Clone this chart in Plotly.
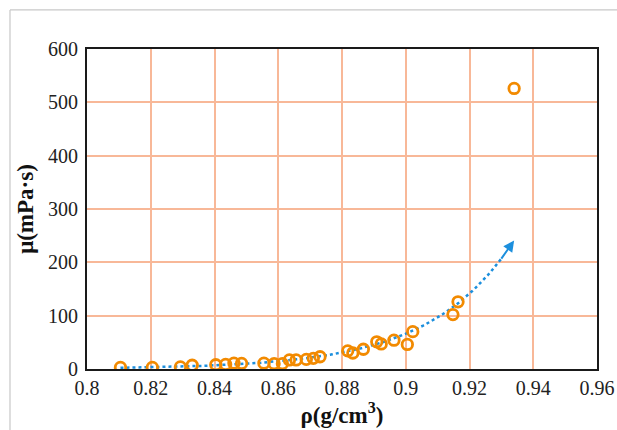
import numpy as np
import plotly.graph_objects as go

density = [0.8105, 0.8205, 0.8293, 0.8330, 0.8404, 0.8435, 0.8461, 0.8485, 0.8555,
           0.8587, 0.8613, 0.8635, 0.8656, 0.8688, 0.8710, 0.8731, 0.8818, 0.8834,
           0.8867, 0.8909, 0.8923, 0.8963, 0.9005, 0.9022, 0.9148, 0.9164, 0.9340]
viscosity = [3, 3, 4, 7, 8, 8.5, 11, 10.5, 11,
             10, 10, 17, 17, 18, 20, 23, 34, 30,
             37, 51, 47, 54, 46, 70, 102, 126, 526]

x_ticks = [0.8, 0.82, 0.84, 0.86, 0.88, 0.9, 0.92, 0.94, 0.96]
x_tick_labels = ["0.8", "0.82", "0.84", "0.86", "0.88", "0.9", "0.92", "0.94", "0.96"]
y_ticks = [0, 100, 200, 300, 400, 500, 600]

# exponential trendline (least squares on ln y), as a spreadsheet would do
xd = np.array(density)
yd = np.array(viscosity)
b, lna = np.polyfit(xd, np.log(yd), 1)
xt = np.linspace(xd.min(), xd.max(), 200)
yt = np.exp(lna + b * xt)

orange = "#F28A00"
blue = "#1C8FDD"
grid = "#F8B898"
serif = "Liberation Serif, Times New Roman, serif"
tickfont = dict(family=serif, size=20, color="#222222")

fig = go.Figure()
fig.add_trace(go.Scatter(x=xt[:-6], y=yt[:-6], mode="lines",
                         line=dict(color=blue, width=2.5, dash="dot"),
                         hoverinfo="skip", showlegend=False))
fig.add_trace(go.Scatter(x=density, y=viscosity, mode="markers",
                         marker=dict(symbol="circle-open", size=10.5, color=orange,
                                     line=dict(width=2.8, color=orange)),
                         showlegend=False))
fig.add_annotation(x=xt[-1], y=yt[-1], ax=xt[-8], ay=yt[-8],
                   xref="x", yref="y", axref="x", ayref="y",
                   showarrow=True, arrowhead=2, arrowsize=1.1, arrowwidth=2,
                   arrowcolor=blue, text="")

# light gray frame around the whole figure
fig.add_shape(type="line", xref="paper", yref="paper", x0=-0.151, x1=-0.151,
              y0=-0.3, y1=1.122, line=dict(color="#C8C8C8", width=1.2))
fig.add_shape(type="line", xref="paper", yref="paper", x0=-0.151, x1=1.1,
              y0=1.122, y1=1.122, line=dict(color="#C8C8C8", width=1.2))

fig.update_layout(
    width=617, height=430,
    margin=dict(l=87, r=20, t=49, b=61, autoexpand=False),
    paper_bgcolor="white", plot_bgcolor="white",
    font=dict(family=serif, size=20, color="#222222"),
    xaxis=dict(range=[0.8, 0.96], tickvals=x_ticks, ticktext=x_tick_labels,
               tickfont=tickfont,
               showgrid=True, gridcolor=grid, gridwidth=1.5,
               showline=True, linecolor="#1a1a1a", linewidth=2.2, mirror=True,
               ticks="", zeroline=False, automargin=False,
               title=dict(text="<b>ρ(g/cm<sup>3</sup>)</b>", standoff=4,
                          font=dict(family=serif, size=23, color="#111111"))),
    yaxis=dict(range=[0, 600], tickvals=y_ticks, tickfont=tickfont,
               showgrid=True, gridcolor=grid, gridwidth=1.5,
               showline=True, linecolor="#1a1a1a", linewidth=2.2, mirror=True,
               ticks="", zeroline=False, automargin=False, ticklabelstandoff=3,
               title=dict(text="<b>μ(mPa·s)</b>", standoff=8,
                          font=dict(family=serif, size=23, color="#111111"))),
)

fig.write_html("out.html",
               config={"displayModeBar": False},
               post_script="document.body.style.margin='0px';"
                           "document.body.style.overflow='hidden';")
